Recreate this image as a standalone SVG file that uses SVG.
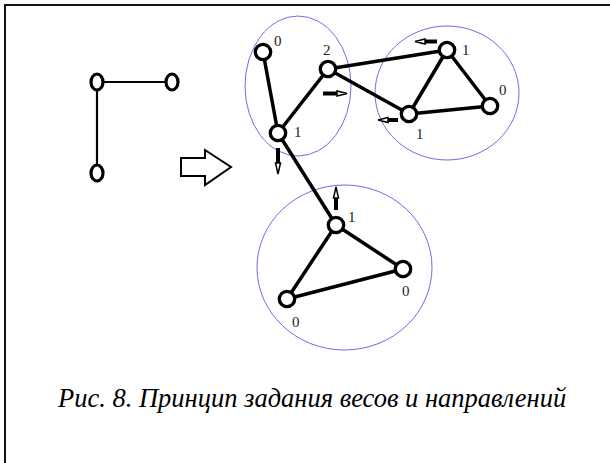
<svg xmlns="http://www.w3.org/2000/svg" width="610" height="463" viewBox="0 0 610 463">
<defs>
<style>
.frame{fill:none;stroke:#111;stroke-width:2}
.grp{fill:none;stroke:#6a6fe0;stroke-width:1}
.e{stroke:#000;stroke-width:3.5;fill:none;stroke-linecap:round}
.e2{stroke:#000;stroke-width:2.2;fill:none}
.n{fill:#fff;stroke:#000;stroke-width:3.3}
.n2{fill:#fff;stroke:#000;stroke-width:3.2}
.lbl{font-size:15px;fill:#222}
.cap{font-size:26.5px;font-style:italic;fill:#000}
.sh{stroke:#000;stroke-width:4;fill:none}
.hd{fill:#fff;stroke:#000;stroke-width:1.5;stroke-linejoin:miter}
.big{fill:#fff;stroke:#000;stroke-width:2}
</style>
</defs>
<rect class="frame" x="5" y="5" width="620" height="480"/>

<g id="group-ellipses">
<ellipse class="grp" cx="298" cy="86" rx="53" ry="70"/>
<ellipse class="grp" cx="447" cy="93" rx="72" ry="67"/>
<ellipse class="grp" cx="344.5" cy="267.5" rx="87.5" ry="82.5"/>
</g>

<g id="connectors">
<line class="e2" x1="97" y1="82" x2="172" y2="82"/>
<line class="e2" x1="97" y1="82" x2="97" y2="173"/>
<line class="e" x1="263" y1="52" x2="278" y2="133"/>
<line class="e" x1="328" y1="69" x2="278" y2="133"/>
<line class="e" x1="278" y1="133" x2="336" y2="225"/>
<line class="e" x1="328" y1="69" x2="447" y2="50"/>
<line class="e" x1="328" y1="69" x2="409" y2="114"/>
<line class="e" x1="447" y1="50" x2="409" y2="114"/>
<line class="e" x1="447" y1="50" x2="490" y2="106"/>
<line class="e" x1="409" y1="114" x2="490" y2="106"/>
<line class="e" x1="336" y1="225" x2="403" y2="269"/>
<line class="e" x1="336" y1="225" x2="287" y2="299"/>
<line class="e" x1="287" y1="299" x2="403" y2="269"/>
</g>

<g id="direction-arrows">
<path class="big" d="M181,158 H205 V150 L231,167 L205,185 V176 H181 Z"/>
<g id="arrow-down">
<line class="sh" x1="278" y1="148" x2="278" y2="164"/>
<path class="hd" d="M275.5,163 L280.5,163 L278,174 Z"/>
</g>
<g id="arrow-right">
<line class="sh" x1="323" y1="93.5" x2="338" y2="93.5"/>
<path class="hd" d="M337,91 L337,96 L347,93.5 Z"/>
</g>
<g id="arrow-left-top">
<line class="sh" x1="437" y1="41.5" x2="424" y2="41.5"/>
<path class="hd" d="M425,39 L425,44 L415,41.5 Z"/>
</g>
<g id="arrow-left-bottom">
<line class="sh" x1="398" y1="120" x2="387" y2="120"/>
<path class="hd" d="M388,117.5 L388,122.5 L378,120 Z"/>
</g>
<g id="arrow-up">
<line class="sh" x1="336" y1="210" x2="336" y2="197"/>
<path class="hd" d="M333.5,198 L338.5,198 L336,187 Z"/>
</g>
</g>

<g id="node-a"><ellipse class="n2" cx="97" cy="82" rx="6" ry="8"/></g>
<g id="node-b"><ellipse class="n2" cx="172" cy="82" rx="6" ry="8"/></g>
<g id="node-c"><ellipse class="n2" cx="97" cy="173" rx="6" ry="8"/></g>

<g font-family="Liberation Serif, DejaVu Serif, serif">
<g id="g1-n0"><circle class="n" cx="263" cy="52" r="7.7"/><text class="lbl" x="274" y="46">0</text></g>
<g id="g1-n2"><circle class="n" cx="328" cy="69" r="7.7"/><text class="lbl" x="323" y="55">2</text></g>
<g id="g1-n1"><circle class="n" cx="278" cy="133" r="7.7"/><text class="lbl" x="294" y="137">1</text></g>

<g id="g2-top"><circle class="n" cx="447" cy="50" r="7.7"/><text class="lbl" x="462" y="55">1</text></g>
<g id="g2-right"><circle class="n" cx="490" cy="106" r="7.7"/><text class="lbl" x="499" y="95">0</text></g>
<g id="g2-bottom"><circle class="n" cx="409" cy="114" r="7.7"/><text class="lbl" x="416" y="139">1</text></g>

<g id="g3-top"><circle class="n" cx="336" cy="225" r="7.7"/><text class="lbl" x="348" y="222">1</text></g>
<g id="g3-right"><circle class="n" cx="403" cy="269" r="7.7"/><text class="lbl" x="402" y="296">0</text></g>
<g id="g3-left"><circle class="n" cx="287" cy="299" r="7.7"/><text class="lbl" x="292" y="327">0</text></g>

<text class="cap" x="58" y="407">Рис. 8. Принцип задания весов и направлений</text>
</g>
</svg>
